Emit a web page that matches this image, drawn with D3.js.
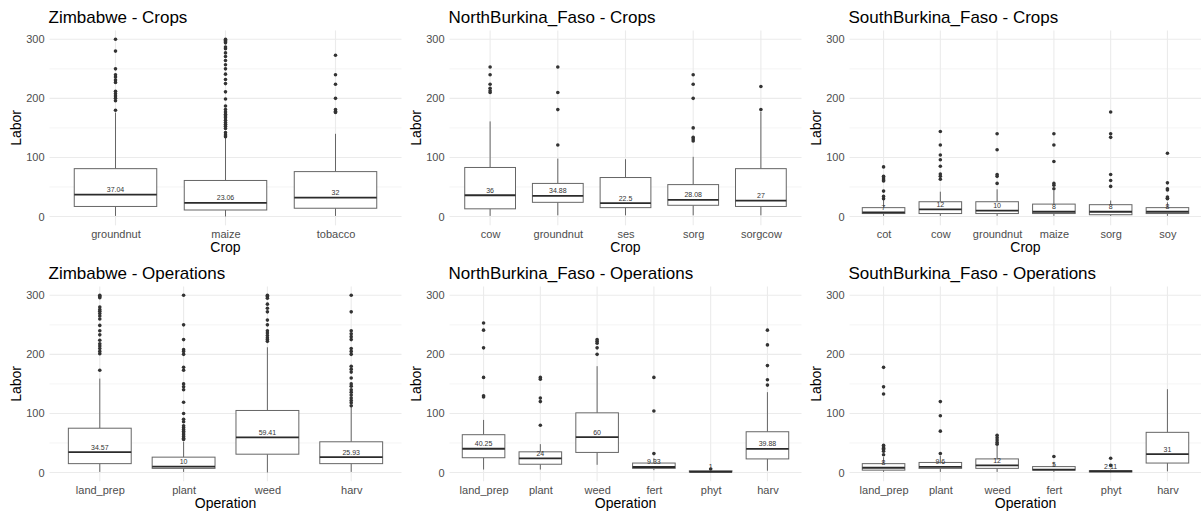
<!DOCTYPE html>
<html>
<head>
<meta charset="utf-8">
<script src="https://cdn.jsdelivr.net/npm/d3@7"></script>
<style>
  body { margin: 0; background: #fff; }
  text { font-family: "Liberation Sans", Arial, sans-serif; }
</style>
</head>
<body>
<div id="chart"></div>
<script>
// box stats are [lower whisker, q1, median, q3, upper whisker]
var zimCropCats = ["groundnut", "maize", "tobacco"];
var zimCropBox = [[1, 17, 37.04, 81, 176], [0, 11, 23.06, 61, 133], [1, 14, 32, 76, 140]];
var zimCropLab = ["37.04", "23.06", "32"];
var zimCropOut = [
  [180, 196, 200, 204, 208, 212, 227, 231, 236, 240, 250, 280, 300],
  [135, 138, 142, 149, 153, 156, 159, 163, 167, 170, 173, 177, 181, 187, 199, 211, 225, 232, 241, 250, 257, 264, 271, 277, 284, 287, 294, 296, 298, 300],
  [176, 178, 181, 200, 224, 240, 273]
];

var northCropCats = ["cow", "groundnut", "ses", "sorg", "sorgcow"];
var northCropBox = [[1, 13, 36, 83, 161], [2, 24, 34.88, 56, 98], [2, 15, 22.5, 66, 97], [2, 19, 28.08, 54, 101], [2, 17, 27, 81, 177]];
var northCropLab = ["36", "34.88", "22.5", "28.08", "27"];
var northCropOut = [
  [210, 213, 217, 224, 240, 253],
  [121, 181, 210, 253],
  [],
  [128, 131, 134, 150, 200, 224, 240],
  [181, 220]
];

var southCropCats = ["cot", "cow", "groundnut", "maize", "sorg", "soy"];
var southCropBox = [[1, 5, 7, 15, 28], [1, 5, 12, 25, 42], [1, 5, 10, 25, 46], [1, 5, 8, 21, 44], [1, 3, 8, 20, 27], [1, 5, 8, 15, 24]];
var southCropLab = ["7", "12", "10", "8", "8", "8"];
var southCropOut = [
  [30, 34, 43, 60, 62, 65, 68, 84],
  [63, 68, 72, 85, 96, 104, 121, 144],
  [56, 68, 71, 113, 140],
  [47, 53, 56, 93, 121, 140],
  [51, 61, 71, 134, 140, 177],
  [30, 31, 33, 45, 47, 57, 107]
];

var zimOpCats = ["land_prep", "plant", "weed", "harv"];
var zimOpBox = [[1, 15, 34.57, 75, 159], [1, 7, 10, 26, 52], [0, 31, 59.41, 105, 212], [1, 15, 25.93, 52, 111]];
var zimOpLab = ["34.57", "10", "59.41", "25.93"];
var zimOpOut = [
  [173, 201, 205, 210, 214, 218, 224, 233, 240, 249, 260, 265, 269, 273, 276, 280, 296, 298, 300],
  [56, 58, 61, 64, 67, 70, 73, 76, 79, 86, 90, 100, 119, 140, 145, 150, 173, 178, 200, 205, 208, 225, 250, 300],
  [222, 225, 228, 232, 236, 240, 250, 258, 272, 278, 285, 295, 298, 300],
  [113, 118, 122, 126, 131, 136, 140, 146, 150, 160, 170, 175, 180, 200, 205, 210, 225, 230, 235, 240, 272, 300]
];

var northOpCats = ["land_prep", "plant", "weed", "fert", "phyt", "harv"];
var northOpBox = [[5, 25, 40.25, 64, 89], [5, 14, 24, 35, 48], [13, 34, 60, 101, 180], [4, 7, 9.33, 16, 24], [0, 1, 1, 3, 4], [3, 23, 39.88, 69, 136]];
var northOpLab = ["40.25", "24", "60", "9.33", "1", "39.88"];
var northOpOut = [
  [128, 130, 161, 211, 241, 253],
  [80, 120, 126, 158, 161],
  [200, 211, 219, 222, 225],
  [32, 104, 161],
  [6],
  [148, 157, 181, 216, 241]
];

var southOpCats = ["land_prep", "plant", "weed", "fert", "phyt", "harv"];
var southOpBox = [[1, 4, 8, 15, 26], [1, 7, 9.6, 17, 28], [1, 7, 12, 23, 45], [1, 4, 5, 10, 18], [0, 1, 2.11, 3, 5], [2, 16, 31, 68, 141]];
var southOpLab = ["8", "9.6", "12", "5", "2.11", "31"];
var southOpOut = [
  [30, 36, 39, 41, 43, 46, 133, 145, 178],
  [32, 70, 96, 120],
  [48, 51, 55, 59, 63],
  [27],
  [12, 24],
  []
];

var yTicks = [0, 100, 200, 300];
var yMinor = [50, 150, 250];

var panels = [
  {title: "Zimbabwe - Crops", xlab: "Crop", cats: zimCropCats, box: zimCropBox, lab: zimCropLab, out: zimCropOut, col: 0, row: 0},
  {title: "NorthBurkina_Faso - Crops", xlab: "Crop", cats: northCropCats, box: northCropBox, lab: northCropLab, out: northCropOut, col: 1, row: 0},
  {title: "SouthBurkina_Faso - Crops", xlab: "Crop", cats: southCropCats, box: southCropBox, lab: southCropLab, out: southCropOut, col: 2, row: 0},
  {title: "Zimbabwe - Operations", xlab: "Operation", cats: zimOpCats, box: zimOpBox, lab: zimOpLab, out: zimOpOut, col: 0, row: 1},
  {title: "NorthBurkina_Faso - Operations", xlab: "Operation", cats: northOpCats, box: northOpBox, lab: northOpLab, out: northOpOut, col: 1, row: 1},
  {title: "SouthBurkina_Faso - Operations", xlab: "Operation", cats: southOpCats, box: southOpBox, lab: southOpLab, out: southOpOut, col: 2, row: 1}
];

var svgWidth = 1201;
var svgHeight = 512;

var svg = d3.select("#chart")
  .append("svg")
  .attr("width", svgWidth)
  .attr("height", svgHeight);

panels.forEach(function(p) {
  var cx = p.col * 400;
  var cy = p.row * 256;
  var left = cx + 49.5;
  var right = cx + 401.5;

  var y = d3.scaleLinear().domain([0, 300]).range([cy + 216.5, cy + 39.3]);
  var top = y(315);
  var bottom = y(-15);

  var x = d3.scalePoint().domain(p.cats).range([left, right]).padding(0.6);
  var bw = x.step() * 0.75;

  var g = svg.append("g");

  // grid
  g.selectAll(".minor")
    .data(yMinor)
    .enter()
    .append("line")
    .attr("x1", left).attr("x2", right)
    .attr("y1", d => y(d)).attr("y2", d => y(d))
    .attr("stroke", "#EBEBEB")
    .attr("stroke-width", 0.55);

  g.selectAll(".major")
    .data(yTicks)
    .enter()
    .append("line")
    .attr("x1", left).attr("x2", right)
    .attr("y1", d => y(d)).attr("y2", d => y(d))
    .attr("stroke", "#EBEBEB")
    .attr("stroke-width", 1.1);

  g.selectAll(".vgrid")
    .data(p.cats)
    .enter()
    .append("line")
    .attr("x1", d => x(d)).attr("x2", d => x(d))
    .attr("y1", top).attr("y2", bottom)
    .attr("stroke", "#EBEBEB")
    .attr("stroke-width", 1.1);

  // axes (labels only)
  var yAxis = g.append("g")
    .attr("transform", `translate(${left}, 0)`)
    .call(d3.axisLeft(y).tickValues(yTicks).tickSize(0).tickPadding(5));
  var xAxis = g.append("g")
    .attr("transform", `translate(0, ${bottom})`)
    .call(d3.axisBottom(x).tickSize(0).tickPadding(4.5));
  [yAxis, xAxis].forEach(function(a) {
    a.select(".domain").remove();
    a.selectAll("text")
      .attr("fill", "#4D4D4D")
      .style("font-family", "\"Liberation Sans\", Arial, sans-serif")
      .style("font-size", "11px");
  });

  var data = p.cats.map(function(c, i) {
    return {cat: c, s: p.box[i], lab: p.lab[i], out: p.out[i]};
  });

  // whiskers
  g.selectAll(".whisk")
    .data(data)
    .enter()
    .append("path")
    .attr("d", d => `M${x(d.cat)},${y(d.s[3])}V${y(d.s[4])}M${x(d.cat)},${y(d.s[1])}V${y(d.s[0])}`)
    .attr("stroke", "#666")
    .attr("stroke-width", 1)
    .attr("fill", "none");

  // boxes
  g.selectAll(".box")
    .data(data)
    .enter()
    .append("rect")
    .attr("x", d => x(d.cat) - bw / 2)
    .attr("width", bw)
    .attr("y", d => y(d.s[3]))
    .attr("height", d => y(d.s[1]) - y(d.s[3]))
    .attr("fill", "white")
    .attr("stroke", "#666")
    .attr("stroke-width", 1);

  // medians
  g.selectAll(".med")
    .data(data)
    .enter()
    .append("line")
    .attr("x1", d => x(d.cat) - bw / 2)
    .attr("x2", d => x(d.cat) + bw / 2)
    .attr("y1", d => y(d.s[2])).attr("y2", d => y(d.s[2]))
    .attr("stroke", "#2b2b2b")
    .attr("stroke-width", 1.8);

  // outliers
  data.forEach(function(d) {
    g.selectAll(null)
      .data(d.out)
      .enter()
      .append("circle")
      .attr("cx", x(d.cat))
      .attr("cy", v => y(v))
      .attr("r", 1.8)
      .attr("fill", "#333");
  });

  // median labels
  g.selectAll(".medlab")
    .data(data)
    .enter()
    .append("text")
    .attr("x", d => x(d.cat))
    .attr("y", d => y(d.s[2]) - 2.5)
    .attr("text-anchor", "middle")
    .attr("font-size", "7px")
    .attr("fill", "#333")
    .text(d => d.lab);

  // titles
  g.append("text")
    .attr("x", cx + 48.5)
    .attr("y", cy + 23)
    .attr("font-size", "17px")
    .attr("fill", "#000")
    .text(p.title);

  g.append("text")
    .attr("x", (left + right) / 2)
    .attr("y", cy + 251.5)
    .attr("text-anchor", "middle")
    .attr("font-size", "14px")
    .attr("fill", "#000")
    .text(p.xlab);

  g.append("text")
    .attr("transform", `translate(${cx + 21}, ${(top + bottom) / 2}) rotate(-90)`)
    .attr("text-anchor", "middle")
    .attr("font-size", "14px")
    .attr("fill", "#000")
    .text("Labor");
});
</script>
</body>
</html>
